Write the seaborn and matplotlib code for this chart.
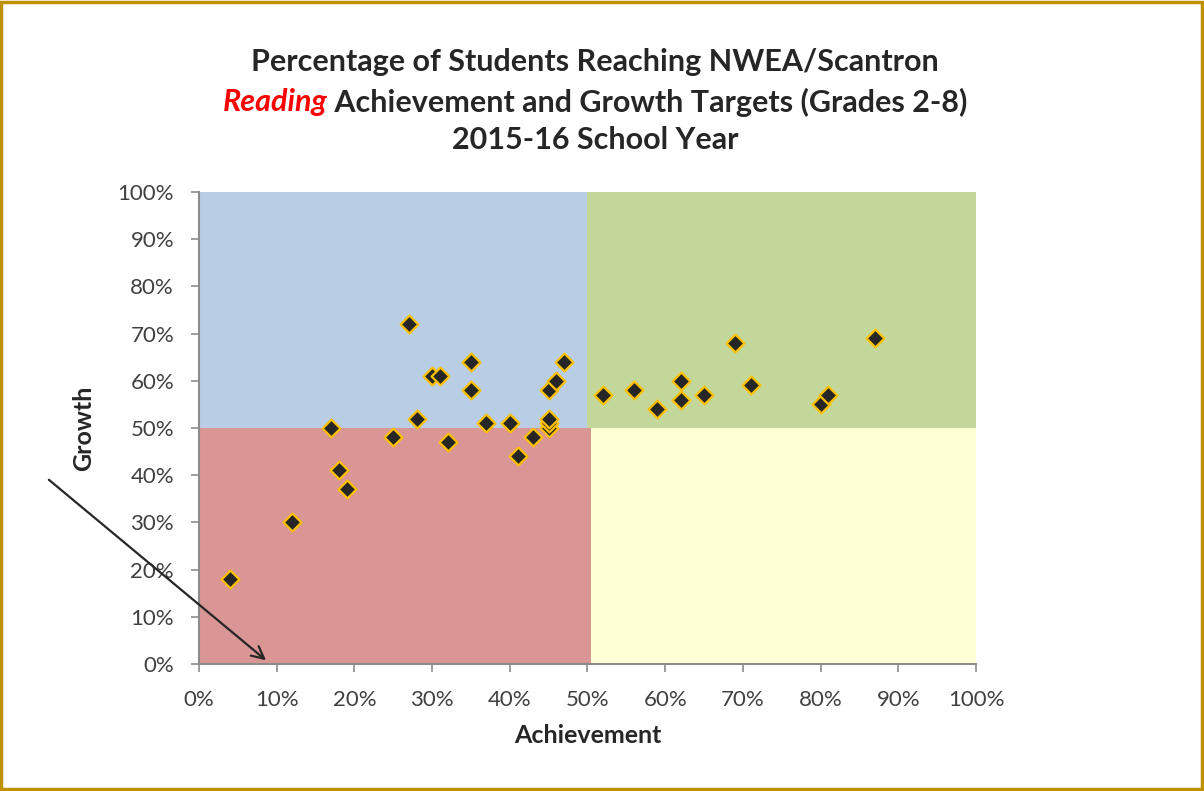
import matplotlib

matplotlib.use("Agg")
import matplotlib.pyplot as plt
import numpy as np
import pandas as pd
import seaborn as sns
from matplotlib.patches import Rectangle
from matplotlib.ticker import FuncFormatter

# achievement (x) and growth (y), in percent, one pair per school
achievement = [4, 12, 17, 18, 19, 25, 27, 28, 30, 31, 32, 35, 35, 37, 40, 41, 43,
               45, 45, 45, 45, 46, 47, 52, 56, 59, 62, 62, 65, 69, 71, 80, 81, 87]
growth = [18, 30, 50, 41, 37, 48, 72, 52, 61, 61, 47, 64, 58, 51, 51, 44, 48,
          50, 51, 52, 58, 60, 64, 57, 58, 54, 60, 56, 57, 68, 59, 55, 57, 69]

ticks = list(range(0, 101, 10))
target = 50  # cut-off separating the quadrants

title_line1 = "Percentage of Students Reaching NWEA/Scantron"
title_red = "Reading"
title_line2 = " Achievement and Growth Targets (Grades 2-8)"
title_line3 = "2015-16 School Year"

df = pd.DataFrame({"Achievement": achievement, "Growth": growth})

sns.set_theme(style="white")
plt.rcParams["font.family"] = ["Lato", "DejaVu Sans"]

fig = plt.figure(figsize=(12.04, 7.91), dpi=100)
ax = fig.add_axes([0.1653, 0.1606, 0.6453, 0.5967])

# quadrant backgrounds
ax.add_patch(Rectangle((0, target), target, 100 - target, color="#B9CDE5", zorder=0, lw=0))
ax.add_patch(Rectangle((target, target), 100 - target, 100 - target, color="#C4D79B", zorder=0, lw=0))
ax.add_patch(Rectangle((0, 0), target + 0.4, target, color="#D99694", zorder=0, lw=0))
ax.add_patch(Rectangle((target + 0.4, 0), 100 - target - 0.4, target, color="#FFFFD5", zorder=0, lw=0))

sns.scatterplot(data=df, x="Achievement", y="Growth", ax=ax, marker="D", s=82,
                color="#262626", edgecolor="#FFC000", linewidth=1.6, zorder=3)

ax.set_xlim(0, 100)
ax.set_ylim(0, 100)
ax.set_xticks(ticks)
ax.set_yticks(ticks)
pct = FuncFormatter(lambda v, _: f"{v:.0f}%")
ax.xaxis.set_major_formatter(pct)
ax.yaxis.set_major_formatter(pct)
ax.tick_params(axis="both", direction="out", length=6, width=1.2, color="#8C8C8C",
               labelsize=16, labelcolor="#404040", pad=12)
ax.tick_params(axis="x", pad=13)
ax.xaxis.set_ticks_position("bottom")
ax.yaxis.set_ticks_position("left")
for side in ["top", "right"]:
    ax.spines[side].set_visible(False)
for side in ["left", "bottom"]:
    ax.spines[side].set_color("#8C8C8C")
    ax.spines[side].set_linewidth(1.5)

ax.set_xlabel("Achievement", fontsize=18, fontweight="bold", color="#262626", labelpad=10)
ax.set_ylabel("Growth", fontsize=18, fontweight="bold", color="#262626", labelpad=16)

ax.annotate("", xy=(8.9, 0.4), xytext=(-19.6, 39.4), xycoords="data",
            annotation_clip=False,
            arrowprops=dict(arrowstyle="->", color="#262626", lw=1.6, mutation_scale=22))

# title, with the red italic word on line two
title_kw = dict(fontsize=22, fontweight="bold", color="#262626", ha="center", va="center")
cx = 595 / 1204
fig.text(cx, 1 - 62 / 791, title_line1, **title_kw)
fig.text(cx, 1 - 140 / 791, title_line3, **title_kw)

renderer = fig.canvas.get_renderer()
y2 = 1 - 102 / 791
t_red = fig.text(0, y2, title_red, fontsize=22, fontweight="bold", style="italic",
                 color="#FF0000", ha="left", va="center")
t_rest = fig.text(0, y2, title_line2, fontsize=22, fontweight="bold", color="#262626",
                  ha="left", va="center")
w_red = t_red.get_window_extent(renderer).width / fig.bbox.width
w_rest = t_rest.get_window_extent(renderer).width / fig.bbox.width
x0 = cx - (w_red + w_rest) / 2
t_red.set_x(x0)
t_rest.set_x(x0 + w_red)

# gold frame around the whole chart
fig.patches.append(Rectangle((0.001, 0.002), 0.997, 0.995, transform=fig.transFigure,
                             fill=False, edgecolor="#BF9000", linewidth=2.5))

fig.savefig("out.png", dpi=100, facecolor="white")
